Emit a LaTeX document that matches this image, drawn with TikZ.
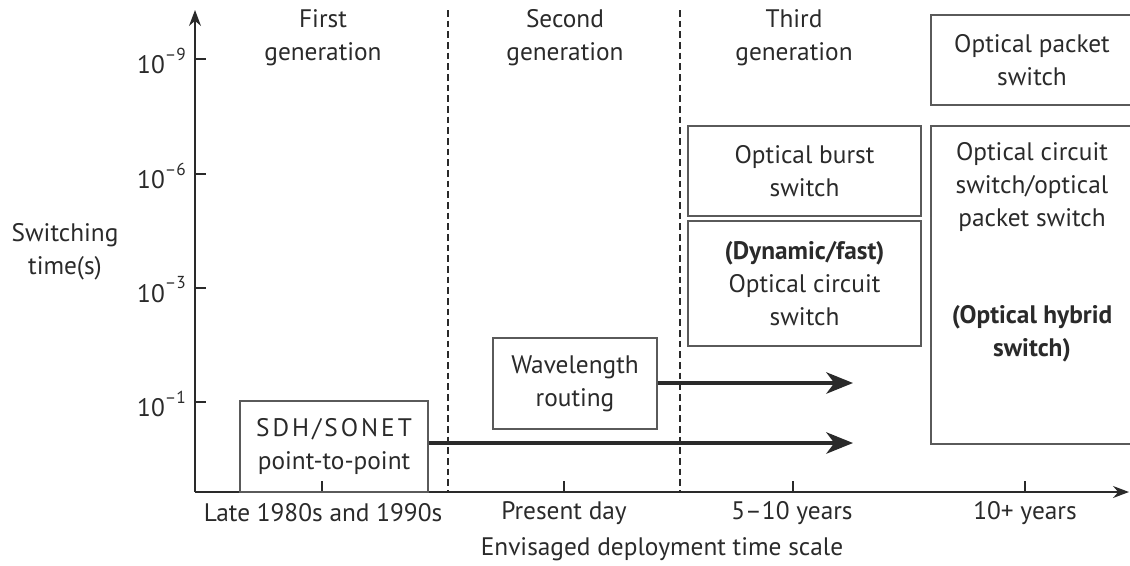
\documentclass[tikz,border=0pt]{standalone}
\usepackage{fontspec}
\setmainfont{PT Sans}
\usetikzlibrary{arrows.meta}
\definecolor{ink}{HTML}{2A2A2A}
\definecolor{boxline}{HTML}{5A5A5A}
\tikzset{
  lbl/.style={text=ink, align=center, inner sep=0pt, font=\fontsize{19}{24.75}\selectfont},
  boxnode/.style={draw=boxline, line width=1.1pt, rectangle, inner sep=0pt, text=ink, align=center, font=\fontsize{19}{24.75}\selectfont},
  openbox/.style={draw=boxline, line width=1.1pt},
  axisline/.style={draw=ink, line width=1.1pt, -{Stealth[length=12pt,width=9pt]}},
  tickline/.style={draw=ink, line width=0.8pt},
  genline/.style={draw=ink, line width=0.8pt, dash pattern=on 5pt off 3pt},
  bigarrow/.style={draw=ink, line width=3pt, -{Stealth[length=20pt,width=16pt,inset=6pt]}},
}
\begin{document}
\begin{tikzpicture}[x=0.75pt,y=-0.75pt]
\useasboundingbox (0,0) rectangle (1130,565);
% axes
\coordinate (origin) at (195,492);
\coordinate (ytop) at (195,10);
\coordinate (xend) at (1129,492);
\draw[axisline] (origin) -- (ytop);
\draw[axisline] (origin) -- (xend);
% y ticks and labels
\foreach \yy/\ex in {59/9,174/6,288/3,402/1}{
  \draw[tickline] (195,\yy) -- (206,\yy);
  \node[lbl, anchor=east] (t\ex) at (186,\yy+2) {10\raisebox{0.55em}{\fontsize{13}{13}\selectfont –\ex}};
}
% x ticks
\foreach \xx in {322,564,793,1025}{
  \draw[tickline] (\xx,492) -- (\xx,481);
}
% generation separators
\draw[genline] (448,10) -- (448,492);
\draw[genline] (680,10) -- (680,492);
% headings
\node[lbl] (g1) at (323,38) {First\\generation};
\node[lbl] (g2) at (565,38) {Second\\generation};
\node[lbl] (g3) at (794,38) {Third\\generation};
\node[lbl] (ylab) at (65,252) {Switching\\time(s)};
% x labels
\node[lbl] (x1) at (323,513) {Late 1980s and 1990s};
\node[lbl] (x2) at (564,513) {Present day};
\node[lbl] (x3) at (792,513) {5–10 years};
\node[lbl] (x4) at (1025,513) {10+ years};
\node[lbl] (xlab) at (662,549) {Envisaged deployment time scale};
% boxes
\node[boxnode, minimum width=188*0.75pt, minimum height=91*0.75pt] (sdh) at (334,446.5)
  {{\addfontfeature{LetterSpace=12}SDH/SONET}\\point-to-point};
\node[boxnode, minimum width=164*0.75pt, minimum height=91*0.75pt] (wave) at (575,383.5)
  {Wavelength\\routing};
\node[boxnode, minimum width=233*0.75pt, minimum height=90*0.75pt] (burst) at (804.5,171)
  {Optical burst\\switch};
\node[boxnode, minimum width=233*0.75pt, minimum height=125*0.75pt] (ocs) at (804.5,283.5)
  {\textbf{(Dynamic/fast)}\\Optical circuit\\switch};
% right open boxes
\draw[openbox] (1135,15) -- (931,15) -- (931,105) -- (1135,105);
\node[lbl] (ops) at (1032,60) {Optical packet\\switch};
\draw[openbox] (1135,126) -- (931,126) -- (931,444) -- (1135,444);
\node[lbl] (hyb1) at (1032,187) {Optical circuit\\switch/optical\\packet switch};
\node[lbl] (hyb2) at (1032,334) {\textbf{(Optical hybrid}\\\textbf{switch)}};
% arrows
\coordinate (e1) at (853,443);
\coordinate (e2) at (853,383);
\draw[bigarrow] (sdh.east |- e1) -- (e1);
\draw[bigarrow] (wave.east |- e2) -- (e2);
\end{tikzpicture}
\end{document}
